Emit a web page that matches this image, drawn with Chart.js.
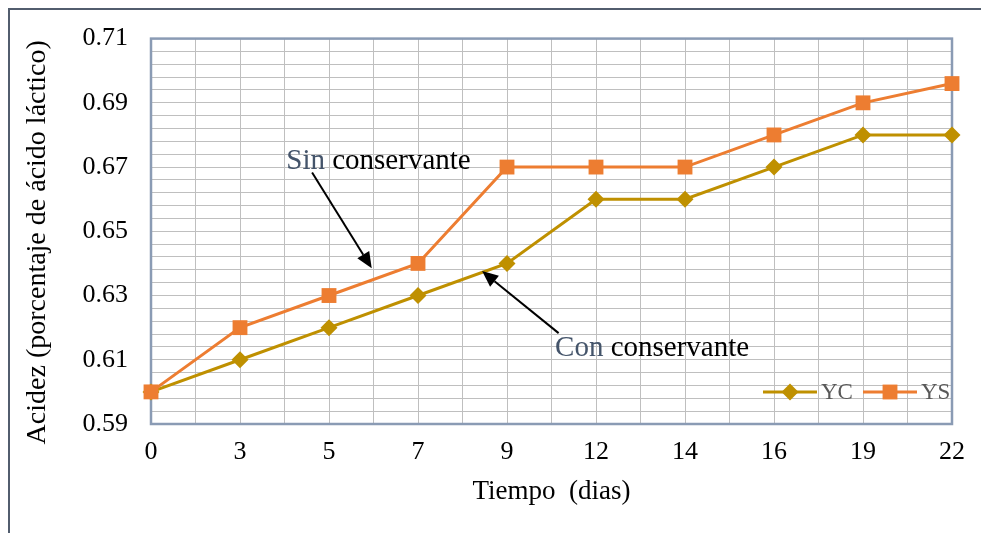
<!DOCTYPE html>
<html>
<head>
<meta charset="utf-8">
<script src="https://cdn.jsdelivr.net/npm/chart.js@4/dist/chart.umd.min.js"></script>
<style>
  html, body { margin: 0; padding: 0; background: #fff; }
  #wrap { position: relative; width: 981px; height: 533px; }
  #frame { position: absolute; left: 8px; top: 8px; right: 0; bottom: 0;
           border-left: 2px solid #525d6e; border-top: 2px solid #525d6e; pointer-events: none; }
  canvas { position: absolute; left: 0; top: 0; }
</style>
</head>
<body>
<div id="wrap">
  <canvas id="chart" width="981" height="533"></canvas>
  <div id="frame"></div>
</div>
<script>
// data
var dias = ["0", "3", "5", "7", "9", "12", "14", "16", "19", "22"];
var yc = [0.60, 0.61, 0.62, 0.63, 0.64, 0.66, 0.66, 0.67, 0.68, 0.68];
var ys = [0.60, 0.62, 0.63, 0.64, 0.67, 0.67, 0.67, 0.68, 0.69, 0.696];
var yLabels = ["0.59", "0.61", "0.63", "0.65", "0.67", "0.69", "0.71"];
var yMin = 0.59, yMax = 0.71, yStep = 0.004;
var yTitle = "Acidez (porcentaje de ácido láctico)";

// annotation text + arrows, in data units (x = category index)
var notes = [
    { first: "Sin", rest: " conservante", x: 1.52, y: 0.6693,
      from: [1.81, 0.6683], to: [2.48, 0.6385] },
    { first: "Con", rest: " conservante", x: 4.54, y: 0.6112,
      from: [4.58, 0.6183], to: [3.72, 0.6376] }
];

var serif = "'Liberation Serif', 'Times New Roman', serif";
var gold = "#bf9000";
var orange = "#ed7d31";

function toPoints(arr) {
    return arr.map(function (v, i) { return { x: i, y: v }; });
}

var plotBorder = {
    id: "plotBorder",
    beforeDatasetsDraw: function (chart) {
        var a = chart.chartArea, ctx = chart.ctx;
        ctx.save();
        ctx.strokeStyle = "#8a9bb4";
        ctx.lineWidth = 2.5;
        ctx.strokeRect(a.left, a.top, a.right - a.left, a.bottom - a.top);
        ctx.restore();
    }
};

function arrow(ctx, x1, y1, x2, y2) {
    var ang = Math.atan2(y2 - y1, x2 - x1);
    var len = 16, half = 7;
    var bx = x2 - Math.cos(ang) * len, by = y2 - Math.sin(ang) * len;
    ctx.beginPath();
    ctx.moveTo(x1, y1);
    ctx.lineTo(bx, by);
    ctx.stroke();
    ctx.beginPath();
    ctx.moveTo(x2, y2);
    ctx.lineTo(bx + Math.sin(ang) * half, by - Math.cos(ang) * half);
    ctx.lineTo(bx - Math.sin(ang) * half, by + Math.cos(ang) * half);
    ctx.closePath();
    ctx.fill();
}

var extras = {
    id: "extras",
    afterDatasetsDraw: function (chart) {
        var ctx = chart.ctx, xs = chart.scales.x, ysc = chart.scales.y, a = chart.chartArea;
        ctx.save();
        // y axis title, centred a little below the plot centre like the original
        ctx.font = "28px " + serif;
        ctx.fillStyle = "#000";
        ctx.textAlign = "center";
        ctx.textBaseline = "middle";
        ctx.translate(ysc.left + 28, (a.top + a.bottom) / 2 + 11);
        ctx.rotate(-Math.PI / 2);
        ctx.fillText(yTitle, 0, 0);
        ctx.setTransform(1, 0, 0, 1, 0, 0);
        ctx.textAlign = "left";

        // annotations
        ctx.font = "29px " + serif;
        ctx.textBaseline = "alphabetic";
        ctx.strokeStyle = "#000";
        ctx.lineWidth = 2;
        notes.forEach(function (n) {
            var px = xs.getPixelForValue(n.x), py = ysc.getPixelForValue(n.y);
            ctx.fillStyle = "#44546a";
            ctx.fillText(n.first, px, py);
            var w = ctx.measureText(n.first).width;
            ctx.fillStyle = "#000";
            ctx.fillText(n.rest, px + w, py);
            arrow(ctx, xs.getPixelForValue(n.from[0]), ysc.getPixelForValue(n.from[1]),
                       xs.getPixelForValue(n.to[0]), ysc.getPixelForValue(n.to[1]));
        });
        // legend inside the plot, bottom right
        var ly = a.bottom - 32;
        var items = [
            { ds: chart.data.datasets[0], x0: a.right - 189 },
            { ds: chart.data.datasets[1], x0: a.right - 89 }
        ];
        ctx.font = "23px " + serif;
        ctx.textBaseline = "middle";
        items.forEach(function (it) {
            ctx.strokeStyle = it.ds.borderColor;
            ctx.lineWidth = 3;
            ctx.beginPath();
            ctx.moveTo(it.x0, ly);
            ctx.lineTo(it.x0 + 54, ly);
            ctx.stroke();
            ctx.fillStyle = it.ds.pointBackgroundColor;
            Chart.helpers.drawPoint(ctx, { pointStyle: it.ds.pointStyle, radius: it.ds.pointRadius, rotation: 0, borderWidth: 0 }, it.x0 + 27, ly);
            ctx.fillStyle = "#595959";
            ctx.fillText(it.ds.label, it.x0 + 58, ly + 1);
        });
        ctx.restore();
    }
};

var ctx = document.getElementById("chart").getContext("2d");
new Chart(ctx, {
    type: "line",
    data: {
        datasets: [
            {
                label: "YC",
                data: toPoints(yc),
                borderColor: gold,
                backgroundColor: gold,
                pointBackgroundColor: gold,
                pointBorderWidth: 0,
                pointStyle: "rectRot",
                pointRadius: 8.5,
                borderWidth: 3,
                tension: 0,
                clip: false,
                order: 1
            },
            {
                label: "YS",
                data: toPoints(ys),
                borderColor: orange,
                backgroundColor: orange,
                pointBackgroundColor: orange,
                pointBorderWidth: 0,
                pointStyle: "rect",
                pointRadius: 10.5,
                borderWidth: 3,
                tension: 0,
                clip: false,
                order: 0
            }
        ]
    },
    options: {
        responsive: false,
        animation: false,
        events: [],
        layout: { padding: { left: 10, top: 38, right: 29, bottom: 0 } },
        plugins: { legend: { display: false }, tooltip: { enabled: false } },
        scales: {
            x: {
                type: "linear",
                min: 0,
                max: dias.length - 1,
                afterBuildTicks: function (scale) {
                    var t = [];
                    for (var i = 0; i <= (dias.length - 1) * 2; i++) t.push({ value: i / 2 });
                    scale.ticks = t;
                },
                afterFit: function (scale) { scale.height = 109; },
                grid: { color: "#bfbfbf", lineWidth: 1, drawTicks: false },
                border: { display: false },
                ticks: {
                    autoSkip: false,
                    maxRotation: 0,
                    padding: 13,
                    color: "#000",
                    font: { family: serif, size: 26 },
                    callback: function (v) {
                        return Number.isInteger(v) ? dias[v] : "";
                    }
                },
                title: {
                    display: true,
                    text: "Tiempo  (dias)",
                    color: "#000",
                    font: { family: serif, size: 27 },
                    padding: { top: 0, bottom: 25 }
                }
            },
            y: {
                min: yMin,
                max: yMax,
                afterBuildTicks: function (scale) {
                    var t = [];
                    var n = Math.round((yMax - yMin) / yStep);
                    for (var i = 0; i <= n; i++) t.push({ value: yMin + i * yStep });
                    scale.ticks = t;
                },
                afterFit: function (scale) { scale.width = 141; },
                grid: { color: "#bfbfbf", lineWidth: 1, drawTicks: false },
                border: { display: false },
                ticks: {
                    autoSkip: false,
                    padding: 23,
                    color: "#000",
                    font: { family: serif, size: 26 },
                    callback: function (v, i) {
                        return i % 5 === 0 ? yLabels[i / 5] : "";
                    }
                },
                title: { display: false }
            }
        }
    },
    plugins: [plotBorder, extras]
});
</script>
</body>
</html>
